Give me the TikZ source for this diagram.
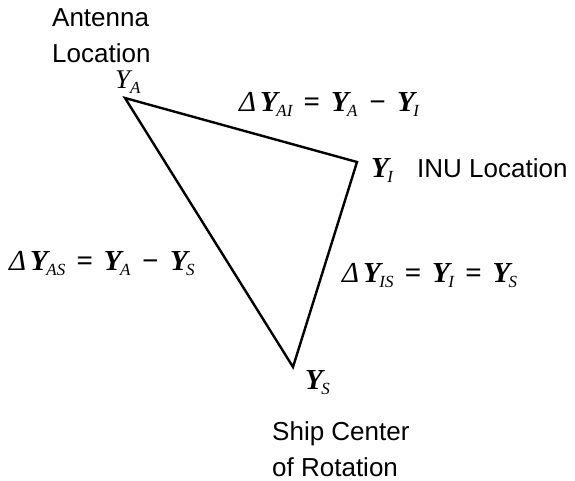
\documentclass[tikz,border=0pt]{standalone}
\usepackage{fontspec}
\setmainfont{Liberation Sans}
\newfontfamily\tmsfont{Liberation Serif}
\usetikzlibrary{positioning}
\newcommand{\subtx}[1]{\raisebox{-5pt}{\fontsize{17}{17}\selectfont\mdseries\itshape #1}}
\newcommand{\vecY}[1]{{\bfseries\itshape Y}\kern-1.5pt\subtx{#1}}
\newcommand{\dlt}{{\itshape Δ}\kern4pt}
\newcommand{\gap}{\hspace{11pt}}
\newcommand{\eqs}{\gap{\bfseries =}\gap}
\newcommand{\mns}{\gap{\bfseries −}\gap}

\begin{document}
\begin{tikzpicture}[x=1pt,y=-1pt,
  lbl/.style={font=\fontsize{26}{36.5}\selectfont,inner sep=0pt,align=left},
  eqn/.style={font=\fontsize{29}{32}\selectfont\tmsfont\itshape,inner sep=0pt,anchor=base west},
  edge/.style={line width=2.4pt}]
\useasboundingbox (0,0) rectangle (575,481);
% triangle corners
\coordinate (ant) at (125,98);
\coordinate (inu) at (357,162);
\coordinate (ship) at (293,367);
\draw[edge] (ant) -- (inu) -- (ship) -- cycle;

% corner labels
\node[lbl,anchor=north west] (antlbl) at (52,8) {Antenna\\Location};
\node[eqn,font=\fontsize{27}{30}\selectfont\tmsfont\itshape] (ya) at (115,89) {Y\subtx{A}};
\node[eqn] (yi) at (371,178) {\vecY{I}};
\node[lbl,anchor=base west] (inulbl) at (417,178) {INU Location};
\node[eqn] (ys) at (305,389) {\vecY{S}};
\node[lbl,anchor=north west] (shiplbl) at (272,421) {Ship Center\\of Rotation};

% edge relations
\node[eqn] (dai) at (239,112) {\dlt\vecY{AI}\eqs\vecY{A}\mns\vecY{I}};
\node[eqn] (das) at (9,270) {\dlt\vecY{AS}\eqs\vecY{A}\mns\vecY{S}};
\node[eqn] (dis) at (342,282) {\dlt\vecY{IS}\eqs\vecY{I}\eqs\vecY{S}};
\end{tikzpicture}
\end{document}
